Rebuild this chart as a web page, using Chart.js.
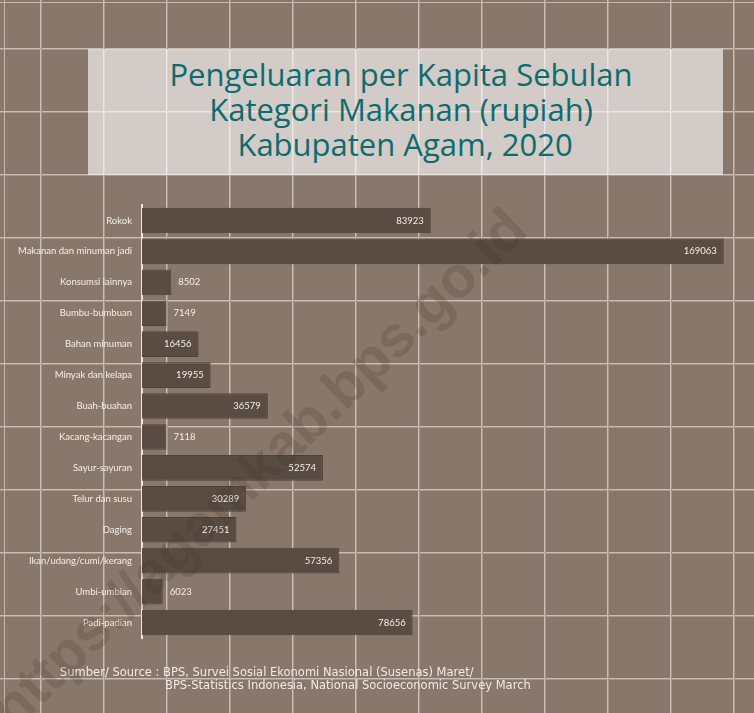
<!DOCTYPE html>
<html>
<head>
<meta charset="utf-8">
<script src="https://cdn.jsdelivr.net/npm/chart.js@4.4.1/dist/chart.umd.min.js"></script>
<style>
    html, body { margin: 0; padding: 0; }
    body { width: 754px; height: 713px; overflow: hidden; position: relative; }
    #bg {
        position: absolute; left: 0; top: 0; width: 754px; height: 713px;
        background-color: #8a776c;
        background-image:
            linear-gradient(to right, #cabdb5 0, #cabdb5 1px, #a8978d 1px, #a8978d 2px, transparent 2px),
            linear-gradient(to bottom, #cabdb5 0, #cabdb5 1px, #a8978d 1px, #a8978d 2px, transparent 2px);
        background-size: 63px 63px, 63px 63px;
        background-position: 40px 0, 0 48px;
    }
    #edgeTop { position: absolute; left: 0; top: 2px; width: 754px; height: 1px; background: #c6b8af; }
    #edgeLeft { position: absolute; left: 4px; top: 0; width: 1px; height: 713px; background: #c6b8af; }
    #titleBox {
        position: absolute; left: 88px; top: 49px; width: 635px; height: 126px;
        background: rgba(255, 255, 255, 0.62);
    }
    #title {
        position: absolute; left: 88px; top: 57px; width: 626px;
        font-family: "Open Sans", sans-serif; font-size: 31px; line-height: 35px;
        color: #0e6c6e; text-align: center; white-space: pre;
    }
    #chart { position: absolute; left: 0; top: 0; }
    .source {
        position: absolute; font-family: "DejaVu Sans", sans-serif; font-size: 11.5px;
        line-height: 13px; color: #f0ebe7; white-space: pre;
    }
    #watermark {
        position: absolute; left: 258px; top: 468px;
        transform: translate(-50%, -50%) rotate(-44deg);
        font-family: "Liberation Sans", Arial, sans-serif; font-weight: bold; font-size: 58px;
        line-height: 1; color: rgba(55, 42, 35, 0.18); white-space: nowrap;
        pointer-events: none;
    }
</style>
</head>
<body>
<div id="bg"></div>
<div id="edgeTop"></div>
<div id="edgeLeft"></div>
<div id="titleBox"></div>
<div id="title">Pengeluaran per Kapita Sebulan
Kategori Makanan (rupiah)
 Kabupaten Agam, 2020</div>
<canvas id="chart" width="754" height="713"></canvas>
<div class="source" style="left:60px; top:666px;">Sumber/ Source : BPS, Survei Sosial Ekonomi Nasional (Susenas) Maret/</div>
<div class="source" style="left:165px; top:679px;">BPS-Statistics Indonesia, National Socioeconomic Survey March</div>
<div id="watermark">https://agamkab.bps.go.id</div>

<script>
// data pengeluaran per kapita sebulan (rupiah)
const categories = [
    'Rokok',
    'Makanan dan minuman jadi',
    'Konsumsi lainnya',
    'Bumbu-bumbuan',
    'Bahan minuman',
    'Minyak dan kelapa',
    'Buah-buahan',
    'Kacang-kacangan',
    'Sayur-sayuran',
    'Telur dan susu',
    'Daging',
    'Ikan/udang/cumi/kerang',
    'Umbi-umbian',
    'Padi-padian'
];
const values = [83923, 169063, 8502, 7149, 16456, 19955, 36579, 7118, 52574, 30289, 27451, 57356, 6023, 78656];

// label angka di ujung batang
const valueLabels = {
    id: 'valueLabels',
    afterDatasetsDraw(chart) {
        const ctx = chart.ctx;
        const meta = chart.getDatasetMeta(0);
        ctx.save();
        ctx.font = '9.5px Lato';
        ctx.fillStyle = '#f3eee9';
        ctx.textBaseline = 'middle';
        meta.data.forEach((bar, i) => {
            const txt = String(values[i]);
            const w = ctx.measureText(txt).width;
            if (bar.x - bar.base > w + 14) {
                ctx.textAlign = 'right';
                ctx.fillText(txt, bar.x - 7, bar.y);
            } else {
                ctx.textAlign = 'left';
                ctx.fillText(txt, bar.x + 7, bar.y);
            }
        });
        ctx.restore();
    }
};

new Chart(document.getElementById('chart'), {
    type: 'bar',
    data: {
        labels: categories,
        datasets: [{
            data: values,
            backgroundColor: '#5a4c43',
            borderColor: '#4f423a',
            borderWidth: 1,
            categoryPercentage: 1,
            barPercentage: 0.83
        }]
    },
    options: {
        indexAxis: 'y',
        responsive: false,
        animation: false,
        devicePixelRatio: 1,
        layout: {
            padding: { top: 205, bottom: 75, right: 27, left: 0 }
        },
        plugins: {
            legend: { display: false },
            tooltip: { enabled: false }
        },
        scales: {
            x: {
                display: false,
                min: 0,
                max: 170000
            },
            y: {
                afterFit(scale) { scale.width = 142; },
                grid: { display: false, drawTicks: false },
                border: { display: true, color: '#ece6e2', width: 2 },
                ticks: {
                    color: '#f3eee9',
                    font: { family: 'Lato', size: 9.5 },
                    padding: 10
                }
            }
        }
    },
    plugins: [valueLabels]
});
</script>
</body>
</html>
